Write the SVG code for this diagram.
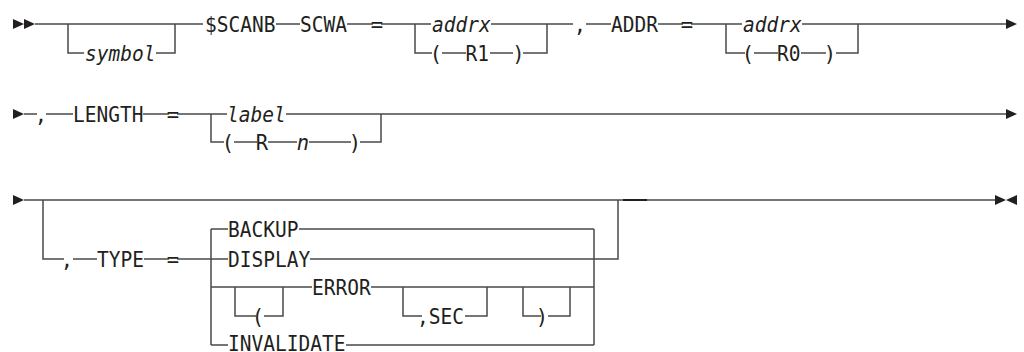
<svg xmlns="http://www.w3.org/2000/svg" width="1024" height="352" viewBox="0 0 1024 352">
<style>
.t{font-family:"DejaVu Sans Mono","Liberation Mono",monospace;font-size:20.5px;fill:#231f20}
.i{font-style:italic}
.c{fill:none;stroke:#4a4a4a;stroke-width:1.5}
.a{fill:#231f20}
</style>
<rect width="1024" height="352" fill="#fff"/>
<g id="connectors">
<path class="c" d="M35 24H203M68 24V53H84M156 53H175V24M276 24H300M347 24H373M381 24H431M415 24V53H432M523 53H547V24M491 24H573M442 53H466M490 53H513M586 24H611M658 24H683M691 24H742M726 24V53H745M754 53H778M801 53H826M836 53H858V24M802 24H1007"/>
<path class="c" d="M24 114H37M46 114H73M143 114H169M177 114H227M211 114V142H224M234 142H257M268 142H297M309 142H351M360 142H381V114M286 114H1007"/>
<path class="c" d="M24 200H996M43 200V259H64M73 259H97M144 259H169M177 259H228M211 229V345M211 229H228M299 229H594M310 259H618V200M594 229V345M211 287H312M235 287V316H256M264 316H283V287M371 287H594M403 287V316H422M465 316H487V287M523 287V316H541M548 316H570V287M211 345H228M346 345H594"/>
<path d="M623 200H647" stroke="#231f20" stroke-width="2"/>
<path class="a" d="M13 19L24 24L13 29ZM24 19L35 24L24 29Z"/>
<path class="a" d="M1006 19L1017 24L1006 29Z"/>
<path class="a" d="M13 109L24 114L13 119Z"/>
<path class="a" d="M1006 109L1017 114L1006 119Z"/>
<path class="a" d="M13 195L24 200L13 205Z"/>
<path class="a" d="M995 195L1006 200L995 205ZM1017 195L1006 200L1017 205Z"/>
</g>
<g id="n-symbol"><text class="t i" x="85" y="60.5" textLength="70.4" lengthAdjust="spacingAndGlyphs">symbol</text></g>
<g id="n-scanb"><text class="t" x="205" y="31.5" textLength="70.4" lengthAdjust="spacingAndGlyphs">$SCANB</text></g>
<g id="n-scwa"><text class="t" x="300" y="31.5" textLength="47" lengthAdjust="spacingAndGlyphs">SCWA</text></g>
<g id="n-eq1"><text class="t" x="370.7" y="31.5">=</text></g>
<g id="n-addrx1"><text class="t i" x="432" y="31.5" textLength="58.7" lengthAdjust="spacingAndGlyphs">addrx</text></g>
<g id="n-r1"><text class="t" x="429.7" y="60.5">(</text><text class="t" x="465.5" y="60.5" textLength="23.5" lengthAdjust="spacingAndGlyphs">R1</text><text class="t" x="512.3" y="60.5">)</text></g>
<g id="n-comma1"><text class="t" x="573.7" y="31.5">,</text></g>
<g id="n-addr"><text class="t" x="611" y="31.5" textLength="47" lengthAdjust="spacingAndGlyphs">ADDR</text></g>
<g id="n-eq2"><text class="t" x="680.7" y="31.5">=</text></g>
<g id="n-addrx2"><text class="t i" x="743" y="31.5" textLength="58.7" lengthAdjust="spacingAndGlyphs">addrx</text></g>
<g id="n-r0"><text class="t" x="741.7" y="60.5">(</text><text class="t" x="777" y="60.5" textLength="23.5" lengthAdjust="spacingAndGlyphs">R0</text><text class="t" x="823.7" y="60.5">)</text></g>
<g id="n-comma2"><text class="t" x="34.7" y="121.5">,</text></g>
<g id="n-length"><text class="t" x="73" y="121.5" textLength="70.4" lengthAdjust="spacingAndGlyphs">LENGTH</text></g>
<g id="n-eq3"><text class="t" x="166.7" y="121.5">=</text></g>
<g id="n-label"><text class="t i" x="227" y="121.5" textLength="58.7" lengthAdjust="spacingAndGlyphs">label</text></g>
<g id="n-rn"><text class="t" x="221.7" y="149.5">(</text><text class="t" x="255.7" y="149.5">R</text><text class="t i" x="296.7" y="149.5">n</text><text class="t" x="348.7" y="149.5">)</text></g>
<g id="n-comma3"><text class="t" x="60.7" y="266.5">,</text></g>
<g id="n-type"><text class="t" x="97" y="266.5" textLength="47" lengthAdjust="spacingAndGlyphs">TYPE</text></g>
<g id="n-eq4"><text class="t" x="166.7" y="266.5">=</text></g>
<g id="n-backup"><text class="t" x="228" y="236.5" textLength="70.4" lengthAdjust="spacingAndGlyphs">BACKUP</text></g>
<g id="n-display"><text class="t" x="228" y="266.5" textLength="82.2" lengthAdjust="spacingAndGlyphs">DISPLAY</text></g>
<g id="n-lparen"><text class="t" x="251.7" y="323.5">(</text></g>
<g id="n-error"><text class="t" x="312" y="294.5" textLength="58.7" lengthAdjust="spacingAndGlyphs">ERROR</text></g>
<g id="n-sec"><text class="t" x="417" y="323.5" textLength="47" lengthAdjust="spacingAndGlyphs">,SEC</text></g>
<g id="n-rparen"><text class="t" x="535.7" y="323.5">)</text></g>
<g id="n-invalidate"><text class="t" x="228" y="351" textLength="117.4" lengthAdjust="spacingAndGlyphs">INVALIDATE</text></g>
</svg>
